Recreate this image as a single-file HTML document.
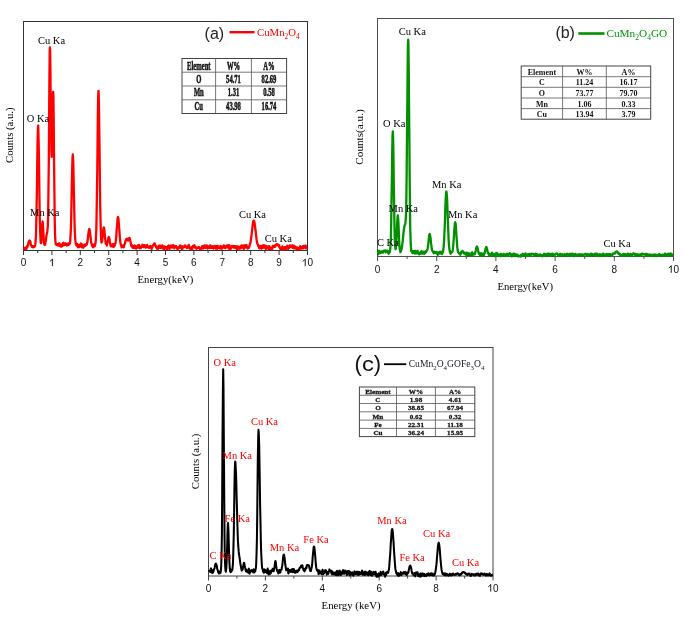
<!DOCTYPE html>
<html><head><meta charset="utf-8"><style>
html,body{margin:0;padding:0;background:#fff;}
body{width:685px;height:627px;overflow:hidden;font-family:"Liberation Serif",serif;}
svg{display:block;will-change:transform;filter:blur(0.4px);}
</style></head><body>
<svg width="685" height="627" viewBox="0 0 685 627">
<rect x="0" y="0" width="685" height="627" fill="#fff"/>
<rect x="23.5" y="21.5" width="284.0" height="229.0" fill="none" stroke="#333" stroke-width="1"/>
<line x1="23.5" y1="250.5" x2="23.5" y2="255.0" stroke="#333" stroke-width="1"/>
<text x="23.5" y="266.2" font-family="Liberation Sans" font-size="10" text-anchor="middle" fill="#111">0</text>
<line x1="37.7" y1="250.5" x2="37.7" y2="253.0" stroke="#333" stroke-width="1"/>
<line x1="51.9" y1="250.5" x2="51.9" y2="255.0" stroke="#333" stroke-width="1"/>
<path d="M52.40 266.20 L52.40 259.04 M52.60 259.14 L49.90 261.44" stroke="#111" stroke-width="0.95" fill="none" stroke-linecap="butt"/>
<line x1="66.1" y1="250.5" x2="66.1" y2="253.0" stroke="#333" stroke-width="1"/>
<line x1="80.3" y1="250.5" x2="80.3" y2="255.0" stroke="#333" stroke-width="1"/>
<text x="80.3" y="266.2" font-family="Liberation Sans" font-size="10" text-anchor="middle" fill="#111">2</text>
<line x1="94.5" y1="250.5" x2="94.5" y2="253.0" stroke="#333" stroke-width="1"/>
<line x1="108.7" y1="250.5" x2="108.7" y2="255.0" stroke="#333" stroke-width="1"/>
<text x="108.7" y="266.2" font-family="Liberation Sans" font-size="10" text-anchor="middle" fill="#111">3</text>
<line x1="122.9" y1="250.5" x2="122.9" y2="253.0" stroke="#333" stroke-width="1"/>
<line x1="137.1" y1="250.5" x2="137.1" y2="255.0" stroke="#333" stroke-width="1"/>
<text x="137.1" y="266.2" font-family="Liberation Sans" font-size="10" text-anchor="middle" fill="#111">4</text>
<line x1="151.3" y1="250.5" x2="151.3" y2="253.0" stroke="#333" stroke-width="1"/>
<line x1="165.5" y1="250.5" x2="165.5" y2="255.0" stroke="#333" stroke-width="1"/>
<text x="165.5" y="266.2" font-family="Liberation Sans" font-size="10" text-anchor="middle" fill="#111">5</text>
<line x1="179.7" y1="250.5" x2="179.7" y2="253.0" stroke="#333" stroke-width="1"/>
<line x1="193.9" y1="250.5" x2="193.9" y2="255.0" stroke="#333" stroke-width="1"/>
<text x="193.9" y="266.2" font-family="Liberation Sans" font-size="10" text-anchor="middle" fill="#111">6</text>
<line x1="208.1" y1="250.5" x2="208.1" y2="253.0" stroke="#333" stroke-width="1"/>
<line x1="222.3" y1="250.5" x2="222.3" y2="255.0" stroke="#333" stroke-width="1"/>
<text x="222.3" y="266.2" font-family="Liberation Sans" font-size="10" text-anchor="middle" fill="#111">7</text>
<line x1="236.5" y1="250.5" x2="236.5" y2="253.0" stroke="#333" stroke-width="1"/>
<line x1="250.7" y1="250.5" x2="250.7" y2="255.0" stroke="#333" stroke-width="1"/>
<text x="250.7" y="266.2" font-family="Liberation Sans" font-size="10" text-anchor="middle" fill="#111">8</text>
<line x1="264.9" y1="250.5" x2="264.9" y2="253.0" stroke="#333" stroke-width="1"/>
<line x1="279.1" y1="250.5" x2="279.1" y2="255.0" stroke="#333" stroke-width="1"/>
<text x="279.1" y="266.2" font-family="Liberation Sans" font-size="10" text-anchor="middle" fill="#111">9</text>
<line x1="293.3" y1="250.5" x2="293.3" y2="253.0" stroke="#333" stroke-width="1"/>
<line x1="307.5" y1="250.5" x2="307.5" y2="255.0" stroke="#333" stroke-width="1"/>
<path d="M305.22 266.20 L305.22 259.04 M305.42 259.14 L302.72 261.44" stroke="#111" stroke-width="0.95" fill="none" stroke-linecap="butt"/>
<text x="307.50" y="266.2" font-family="Liberation Sans" font-size="10" fill="#111">0</text>
<polyline fill="none" stroke="#ff0000" stroke-width="2.30" stroke-linejoin="round" points="24.0,247.0 24.3,249.1 24.7,249.4 25.0,247.7 25.3,248.0 25.6,247.9 26.0,248.5 26.3,249.0 26.6,247.0 27.0,246.2 27.3,247.3 27.6,246.2 28.0,245.5 28.3,243.4 28.6,242.4 28.9,241.4 29.3,240.7 29.5,240.5 29.6,240.5 29.9,241.0 30.3,241.3 30.6,243.1 30.9,245.1 31.3,245.7 31.6,246.0 31.9,246.7 32.2,245.9 32.6,246.2 32.9,246.9 33.2,247.3 33.6,246.5 33.9,246.3 34.2,246.2 34.6,246.7 34.9,246.2 35.2,244.9 35.5,242.6 35.9,237.0 36.2,226.9 36.5,211.2 36.9,190.3 37.2,166.3 37.5,144.0 37.9,129.2 38.1,125.7 38.2,126.2 38.5,135.9 38.9,155.4 39.2,179.2 39.5,202.0 39.8,220.1 40.2,232.5 40.5,239.8 40.8,243.2 41.2,242.7 41.5,239.2 41.8,232.9 42.1,226.2 42.5,221.9 42.6,221.5 42.8,222.6 43.1,227.9 43.5,234.9 43.8,240.6 44.1,243.7 44.5,244.9 44.8,244.9 45.1,244.4 45.5,242.7 45.8,240.6 46.1,238.3 46.4,235.6 46.8,234.0 47.1,232.5 47.2,232.0 47.4,230.6 47.8,226.5 48.1,216.3 48.4,195.7 48.8,162.3 49.1,119.2 49.4,77.2 49.7,51.0 49.9,47.5 50.1,50.0 50.4,68.7 50.7,98.8 51.1,129.6 51.4,151.0 51.7,156.9 52.0,147.3 52.4,127.4 52.7,106.4 53.0,93.4 53.2,92.0 53.4,95.8 53.7,119.7 54.0,156.2 54.4,191.9 54.7,218.2 55.0,233.6 55.4,241.1 55.7,243.9 56.0,244.1 56.3,244.8 56.7,244.9 57.0,244.5 57.3,244.3 57.7,245.0 58.0,245.5 58.3,245.6 58.6,245.1 59.0,243.4 59.3,243.6 59.6,243.5 60.0,244.9 60.3,246.3 60.6,246.5 61.0,246.6 61.3,246.7 61.6,244.7 62.0,246.2 62.3,246.1 62.6,243.9 62.9,243.1 63.3,242.8 63.6,245.4 63.9,244.3 64.3,243.5 64.6,245.1 64.9,244.6 65.2,243.5 65.6,243.5 65.9,244.8 66.2,243.9 66.6,244.0 66.9,245.6 67.2,245.2 67.6,244.6 67.9,245.0 68.2,243.5 68.5,244.3 68.9,244.7 69.2,244.1 69.5,243.6 69.9,243.6 70.2,241.1 70.5,236.4 70.9,228.8 71.2,217.3 71.5,202.1 71.8,184.9 72.2,169.0 72.5,157.9 72.8,154.5 72.8,154.6 73.2,160.0 73.5,172.6 73.8,189.2 74.2,206.2 74.5,220.6 74.8,231.1 75.2,237.9 75.5,242.0 75.8,243.8 76.1,245.0 76.5,244.8 76.8,245.7 77.1,244.0 77.5,244.3 77.8,246.8 78.1,247.2 78.5,245.3 78.8,246.7 79.1,245.2 79.4,247.0 79.8,246.8 80.1,245.6 80.4,244.7 80.8,243.5 81.1,246.3 81.4,244.1 81.8,246.3 82.1,247.4 82.4,246.4 82.7,244.6 83.1,246.6 83.4,247.6 83.7,246.9 84.1,246.0 84.4,245.3 84.7,245.0 85.0,244.4 85.4,245.8 85.7,245.4 86.0,244.5 86.4,244.0 86.7,244.6 87.0,243.4 87.4,242.1 87.7,239.8 88.0,237.4 88.3,234.5 88.7,231.4 89.0,229.6 89.3,229.0 89.3,229.0 89.7,229.9 90.0,232.2 90.3,234.8 90.7,238.0 91.0,240.9 91.3,243.2 91.7,244.0 92.0,245.6 92.3,246.0 92.6,245.8 93.0,247.3 93.3,245.3 93.6,246.5 94.0,244.5 94.3,244.3 94.6,246.3 95.0,245.0 95.3,244.6 95.6,242.5 95.9,238.1 96.3,229.6 96.6,215.7 96.9,195.1 97.3,168.7 97.6,139.4 97.9,112.7 98.2,95.1 98.5,90.8 98.6,91.3 98.9,102.2 99.2,124.8 99.6,153.6 99.9,182.2 100.2,206.0 100.6,223.3 100.9,234.0 101.2,239.9 101.5,242.6 101.9,242.1 102.2,240.5 102.5,237.3 102.9,233.6 103.2,230.4 103.5,228.1 103.8,227.4 103.9,227.4 104.2,228.8 104.5,231.6 104.8,235.5 105.2,239.1 105.5,241.4 105.8,243.8 106.2,244.2 106.5,243.9 106.8,245.5 107.2,243.8 107.5,242.5 107.8,241.4 108.2,239.1 108.5,237.6 108.8,237.0 108.8,237.0 109.1,237.6 109.5,239.2 109.8,241.5 110.1,243.0 110.5,245.1 110.8,246.3 111.1,245.6 111.5,245.3 111.8,245.8 112.1,244.7 112.4,246.3 112.8,244.6 113.1,244.0 113.4,247.2 113.8,245.8 114.1,246.3 114.4,245.8 114.8,245.1 115.1,244.0 115.4,243.6 115.7,241.7 116.1,238.6 116.4,234.2 116.7,229.4 117.1,224.7 117.4,220.5 117.7,217.8 118.0,217.0 118.0,217.0 118.4,218.4 118.7,221.7 119.0,226.1 119.4,230.9 119.7,235.4 120.0,239.1 120.4,242.5 120.7,244.0 121.0,245.4 121.3,246.2 121.7,247.4 122.0,246.3 122.3,245.7 122.7,245.6 123.0,245.5 123.3,247.0 123.7,247.2 124.0,245.6 124.3,244.7 124.7,244.2 125.0,243.2 125.3,242.1 125.6,240.5 126.0,239.8 126.3,239.1 126.5,239.0 126.6,239.0 127.0,239.3 127.3,238.7 127.6,240.3 128.0,239.8 128.3,240.5 128.6,239.5 128.9,238.6 129.3,238.0 129.5,238.0 129.6,238.1 129.9,238.9 130.3,240.7 130.6,241.8 130.9,243.8 131.2,245.6 131.6,246.5 131.9,246.0 132.2,245.3 132.6,246.3 132.9,247.9 133.2,246.3 133.6,247.9 133.9,245.8 134.2,247.9 134.6,245.4 134.9,245.6 135.2,247.8 135.5,248.1 135.9,248.6 136.2,248.5 136.5,248.1 136.9,247.8 137.2,245.9 137.5,246.2 137.8,245.4 138.2,247.1 138.5,247.5 138.8,246.1 139.2,245.0 139.5,247.9 139.8,248.2 140.2,247.4 140.5,247.1 140.8,248.2 141.2,247.1 141.5,246.5 141.8,246.2 142.1,245.8 142.5,244.8 142.8,246.8 143.1,246.5 143.5,247.0 143.8,245.4 144.1,245.9 144.4,245.3 144.8,245.1 145.1,245.5 145.4,247.7 145.8,246.8 146.1,246.5 146.4,247.2 146.8,246.1 147.1,244.9 147.4,246.4 147.8,246.8 148.1,247.4 148.4,246.9 148.7,247.6 149.1,248.0 149.4,246.4 149.7,246.8 150.1,246.9 150.4,246.0 150.7,246.4 151.1,247.0 151.4,248.5 151.7,248.9 152.0,246.8 152.4,247.3 152.7,245.7 153.0,245.2 153.4,245.4 153.7,245.3 154.0,244.0 154.3,243.5 154.5,243.4 154.7,243.5 155.0,244.1 155.3,245.6 155.7,245.7 156.0,246.8 156.3,247.5 156.7,247.4 157.0,248.3 157.3,248.8 157.7,249.2 158.0,247.9 158.3,246.1 158.6,245.9 159.0,245.7 159.3,246.9 159.6,247.9 160.0,245.7 160.3,247.3 160.6,247.9 160.9,246.7 161.3,247.0 161.6,245.8 161.9,247.5 162.3,245.5 162.6,248.3 162.9,248.5 163.3,247.9 163.6,246.5 163.9,248.3 164.2,249.1 164.6,246.3 164.9,247.8 165.2,248.5 165.6,248.0 165.9,248.1 166.2,247.1 166.6,248.6 166.9,249.2 167.2,247.3 167.6,248.2 167.9,247.1 168.2,245.9 168.5,246.1 168.9,245.4 169.2,248.0 169.5,249.0 169.9,246.3 170.2,247.2 170.5,246.7 170.8,245.6 171.2,245.9 171.5,245.8 171.8,247.6 172.2,245.4 172.5,245.4 172.8,246.3 173.2,245.1 173.5,246.9 173.8,247.4 174.2,248.4 174.5,246.4 174.8,246.1 175.1,246.9 175.5,246.2 175.8,247.1 176.1,246.2 176.5,247.4 176.8,248.2 177.1,248.5 177.4,249.2 177.8,247.9 178.1,247.3 178.4,248.4 178.8,248.4 179.1,247.7 179.4,246.8 179.8,246.2 180.1,245.4 180.4,247.7 180.8,245.9 181.1,247.6 181.4,247.4 181.7,248.8 182.1,248.5 182.4,249.2 182.7,246.4 183.1,246.9 183.4,247.3 183.7,246.4 184.1,246.9 184.4,246.5 184.7,247.0 185.0,245.3 185.4,246.3 185.7,246.7 186.0,246.2 186.4,246.5 186.7,247.9 187.0,248.0 187.3,247.3 187.7,247.7 188.0,246.8 188.3,245.9 188.7,244.9 189.0,245.6 189.3,247.0 189.7,248.4 190.0,248.7 190.3,247.6 190.7,249.0 191.0,247.5 191.3,248.4 191.6,247.2 192.0,248.0 192.3,249.1 192.6,247.0 193.0,245.9 193.3,247.2 193.6,247.2 193.9,246.6 194.3,245.2 194.6,246.1 194.9,246.5 195.3,246.6 195.6,248.2 195.9,247.7 196.3,248.1 196.6,248.8 196.9,248.5 197.2,247.5 197.6,248.1 197.9,247.9 198.2,247.9 198.6,247.8 198.9,247.0 199.2,247.5 199.6,247.7 199.9,248.9 200.2,248.6 200.6,248.8 200.9,248.6 201.2,248.7 201.5,248.0 201.9,246.8 202.2,246.2 202.5,247.6 202.9,248.6 203.2,247.7 203.5,246.0 203.8,248.0 204.2,247.3 204.5,247.0 204.8,245.5 205.2,246.6 205.5,247.8 205.8,247.1 206.2,246.6 206.5,247.5 206.8,245.5 207.2,246.7 207.5,248.6 207.8,248.2 208.1,247.1 208.5,247.8 208.8,247.7 209.1,246.2 209.5,245.8 209.8,248.1 210.1,246.6 210.4,245.4 210.8,247.8 211.1,247.4 211.4,246.7 211.8,247.0 212.1,247.9 212.4,246.2 212.8,247.4 213.1,248.0 213.4,248.5 213.8,246.7 214.1,247.4 214.4,246.2 214.7,247.1 215.1,245.9 215.4,247.8 215.7,248.6 216.1,247.0 216.4,246.1 216.7,248.5 217.1,248.3 217.4,248.7 217.7,245.9 218.0,248.2 218.4,247.9 218.7,246.7 219.0,246.8 219.4,248.0 219.7,248.4 220.0,246.4 220.3,247.4 220.7,246.0 221.0,248.5 221.3,247.3 221.7,248.7 222.0,248.4 222.3,247.9 222.7,246.5 223.0,247.0 223.3,245.8 223.7,245.4 224.0,247.4 224.3,246.7 224.6,247.9 225.0,246.4 225.3,247.7 225.6,248.1 226.0,246.7 226.3,245.6 226.6,246.3 226.9,246.9 227.3,245.6 227.6,245.6 227.9,245.1 228.3,246.9 228.6,248.5 228.9,246.5 229.3,245.3 229.6,247.3 229.9,248.3 230.2,249.2 230.6,248.2 230.9,246.9 231.2,248.3 231.6,246.1 231.9,247.5 232.2,245.8 232.6,246.4 232.9,246.9 233.2,246.6 233.6,245.8 233.9,245.8 234.2,247.9 234.5,247.2 234.9,247.5 235.2,246.2 235.5,247.7 235.9,246.7 236.2,247.4 236.5,248.7 236.8,249.4 237.2,246.2 237.5,247.9 237.8,248.7 238.2,247.0 238.5,246.7 238.8,247.3 239.2,248.7 239.5,247.3 239.8,248.6 240.2,248.5 240.5,246.3 240.8,248.4 241.1,245.8 241.5,245.5 241.8,247.3 242.1,245.6 242.5,246.3 242.8,245.6 243.1,246.6 243.4,248.2 243.8,249.0 244.1,246.0 244.4,245.3 244.8,247.8 245.1,245.7 245.4,245.9 245.8,245.4 246.1,245.2 246.4,244.9 246.8,247.0 247.1,248.0 247.4,248.0 247.7,248.5 248.1,248.0 248.4,246.9 248.7,247.0 249.1,247.5 249.4,246.5 249.7,244.9 250.1,243.5 250.4,243.1 250.7,241.2 251.0,238.9 251.4,236.5 251.7,233.7 252.0,230.8 252.4,227.5 252.7,224.9 253.0,222.8 253.3,221.3 253.7,220.6 253.8,220.5 254.0,220.7 254.3,221.7 254.7,223.8 255.0,226.1 255.3,228.8 255.7,231.5 256.0,234.8 256.3,237.0 256.6,239.9 257.0,242.0 257.3,243.7 257.6,244.0 258.0,244.6 258.3,246.4 258.6,246.5 259.0,246.4 259.3,248.3 259.6,246.0 259.9,246.9 260.3,246.9 260.6,245.8 260.9,246.4 261.3,247.7 261.6,248.7 261.9,246.0 262.3,246.9 262.6,245.7 262.9,247.8 263.2,245.9 263.6,245.1 263.9,246.2 264.2,247.7 264.6,246.7 264.9,245.7 265.2,247.8 265.6,248.5 265.9,248.9 266.2,247.0 266.6,246.9 266.9,246.2 267.2,247.1 267.5,246.6 267.9,246.5 268.2,248.0 268.5,249.1 268.9,248.1 269.2,246.1 269.5,247.4 269.9,247.1 270.2,248.9 270.5,248.5 270.8,248.8 271.2,248.4 271.5,247.7 271.8,248.8 272.2,248.9 272.5,247.0 272.8,245.9 273.1,246.4 273.5,247.0 273.8,245.8 274.1,246.2 274.5,246.8 274.8,245.5 275.1,246.8 275.5,246.4 275.8,245.3 276.1,244.6 276.4,244.2 276.8,244.4 277.1,244.2 277.2,244.2 277.4,244.3 277.8,244.5 278.1,245.5 278.4,245.1 278.8,245.3 279.1,245.1 279.4,247.4 279.8,247.0 280.1,248.3 280.4,248.8 280.7,249.3 281.1,248.9 281.4,249.2 281.7,249.4 282.1,249.0 282.4,246.5 282.7,247.1 283.1,247.5 283.4,249.1 283.7,248.8 284.0,248.5 284.4,248.5 284.7,247.1 285.0,248.8 285.4,248.2 285.7,247.2 286.0,247.1 286.4,248.9 286.7,247.9 287.0,246.3 287.3,245.7 287.7,247.5 288.0,247.6 288.3,248.8 288.7,246.6 289.0,246.7 289.3,247.9 289.6,245.8 290.0,245.4 290.3,246.9 290.6,246.3 291.0,245.6 291.3,245.9 291.6,247.3 292.0,247.4 292.3,245.8 292.6,245.3 292.9,247.9 293.3,248.0 293.6,246.3 293.9,248.3 294.3,245.9 294.6,246.4 294.9,248.3 295.3,248.3 295.6,246.8 295.9,248.5 296.2,248.0 296.6,248.8 296.9,249.2 297.2,247.6 297.6,248.0 297.9,247.7 298.2,249.0 298.6,248.9 298.9,248.6 299.2,248.8 299.6,249.5 299.9,247.1 300.2,246.2 300.5,247.8 300.9,248.4 301.2,247.7 301.5,247.4 301.9,247.0 302.2,248.6 302.5,248.7 302.9,248.0 303.2,245.9 303.5,248.1 303.8,247.4 304.2,246.2 304.5,246.2 304.8,247.7 305.2,245.6 305.5,245.4 305.8,246.0 306.1,248.3 306.5,248.5 306.8,249.4"/>
<text x="0" y="0" transform="translate(38.00 43.70) scale(1 1.070)" font-family="Liberation Serif" font-size="10.5" fill="#000" text-anchor="start" >Cu Ka</text>
<text x="0" y="0" transform="translate(26.70 122.00) scale(1 1.070)" font-family="Liberation Serif" font-size="10.5" fill="#000" text-anchor="start" >O Ka</text>
<text x="0" y="0" transform="translate(30.10 216.10) scale(1 1.070)" font-family="Liberation Serif" font-size="10.5" fill="#000" text-anchor="start" >Mn Ka</text>
<text x="0" y="0" transform="translate(238.90 217.90) scale(1 1.070)" font-family="Liberation Serif" font-size="10.5" fill="#000" text-anchor="start" >Cu Ka</text>
<text x="0" y="0" transform="translate(264.70 241.70) scale(1 1.070)" font-family="Liberation Serif" font-size="10.5" fill="#000" text-anchor="start" >Cu Ka</text>
<text x="137.5" y="282.7" font-family="Liberation Serif" font-size="11.2" fill="#000" text-anchor="start" textLength="55.8" lengthAdjust="spacingAndGlyphs">Energy(keV)</text>
<text x="0.0" y="0.0" font-family="Liberation Serif" font-size="10.7" fill="#000" text-anchor="middle" transform="translate(13.2 135.2) rotate(-90)">Counts (a.u.)</text>
<text x="204.6" y="38.5" font-family="Liberation Sans" font-size="16" fill="#222" text-anchor="start" >(a)</text>
<line x1="229.5" y1="32.2" x2="254.5" y2="32.2" stroke="#ff0000" stroke-width="2.4"/>
<text x="257.0" y="35.8" font-family="Liberation Serif" font-size="10.8" fill="#ff0000">CuMn<tspan font-size="7.3" dy="2.7">2</tspan><tspan dy="-2.7">O</tspan><tspan font-size="7.3" dy="2.7">4</tspan></text>
<rect x="182.0" y="58.5" width="104.6" height="55.0" fill="#fff" stroke="#444" stroke-width="1"/>
<line x1="182.0" y1="72.2" x2="286.6" y2="72.2" stroke="#555" stroke-width="0.8"/>
<line x1="182.0" y1="86.0" x2="286.6" y2="86.0" stroke="#555" stroke-width="0.8"/>
<line x1="182.0" y1="99.8" x2="286.6" y2="99.8" stroke="#555" stroke-width="0.8"/>
<line x1="215.6" y1="58.5" x2="215.6" y2="113.5" stroke="#555" stroke-width="0.8"/>
<line x1="251.4" y1="58.5" x2="251.4" y2="113.5" stroke="#555" stroke-width="0.8"/>
<text x="0" y="0" transform="translate(198.80 69.77) scale(0.5570 1.0000)" font-family="Liberation Serif" font-weight="bold" font-size="11.80" fill="#111" stroke="#111" stroke-width="0.55" text-anchor="middle">Element</text>
<text x="0" y="0" transform="translate(233.50 69.77) scale(0.5570 1.0000)" font-family="Liberation Serif" font-weight="bold" font-size="11.80" fill="#111" stroke="#111" stroke-width="0.55" text-anchor="middle">W%</text>
<text x="0" y="0" transform="translate(269.00 69.77) scale(0.5570 1.0000)" font-family="Liberation Serif" font-weight="bold" font-size="11.80" fill="#111" stroke="#111" stroke-width="0.55" text-anchor="middle">A%</text>
<text x="0" y="0" transform="translate(198.80 82.62) scale(0.5570 1.0000)" font-family="Liberation Serif" font-weight="bold" font-size="11.80" fill="#111" stroke="#111" stroke-width="0.55" text-anchor="middle">O</text>
<text x="0" y="0" transform="translate(233.50 82.62) scale(0.5570 1.0000)" font-family="Liberation Serif" font-weight="bold" font-size="11.80" fill="#111" stroke="#111" stroke-width="0.55" text-anchor="middle">54.71</text>
<text x="0" y="0" transform="translate(269.00 82.62) scale(0.5570 1.0000)" font-family="Liberation Serif" font-weight="bold" font-size="11.80" fill="#111" stroke="#111" stroke-width="0.55" text-anchor="middle">82.69</text>
<text x="0" y="0" transform="translate(198.80 96.37) scale(0.5570 1.0000)" font-family="Liberation Serif" font-weight="bold" font-size="11.80" fill="#111" stroke="#111" stroke-width="0.55" text-anchor="middle">Mn</text>
<text x="0" y="0" transform="translate(233.50 96.37) scale(0.5570 1.0000)" font-family="Liberation Serif" font-weight="bold" font-size="11.80" fill="#111" stroke="#111" stroke-width="0.55" text-anchor="middle">1.31</text>
<text x="0" y="0" transform="translate(269.00 96.37) scale(0.5570 1.0000)" font-family="Liberation Serif" font-weight="bold" font-size="11.80" fill="#111" stroke="#111" stroke-width="0.55" text-anchor="middle">0.58</text>
<text x="0" y="0" transform="translate(198.80 110.12) scale(0.5570 1.0000)" font-family="Liberation Serif" font-weight="bold" font-size="11.80" fill="#111" stroke="#111" stroke-width="0.55" text-anchor="middle">Cu</text>
<text x="0" y="0" transform="translate(233.50 110.12) scale(0.5570 1.0000)" font-family="Liberation Serif" font-weight="bold" font-size="11.80" fill="#111" stroke="#111" stroke-width="0.55" text-anchor="middle">43.98</text>
<text x="0" y="0" transform="translate(269.00 110.12) scale(0.5570 1.0000)" font-family="Liberation Serif" font-weight="bold" font-size="11.80" fill="#111" stroke="#111" stroke-width="0.55" text-anchor="middle">16.74</text>
<rect x="377.5" y="18.5" width="296.0" height="238.0" fill="none" stroke="#505050" stroke-width="1"/>
<line x1="377.5" y1="256.5" x2="377.5" y2="261.0" stroke="#505050" stroke-width="1"/>
<text x="377.5" y="272.8" font-family="Liberation Sans" font-size="10" text-anchor="middle" fill="#111">0</text>
<line x1="407.1" y1="256.5" x2="407.1" y2="259.0" stroke="#505050" stroke-width="1"/>
<line x1="436.7" y1="256.5" x2="436.7" y2="261.0" stroke="#505050" stroke-width="1"/>
<text x="436.7" y="272.8" font-family="Liberation Sans" font-size="10" text-anchor="middle" fill="#111">2</text>
<line x1="466.3" y1="256.5" x2="466.3" y2="259.0" stroke="#505050" stroke-width="1"/>
<line x1="495.9" y1="256.5" x2="495.9" y2="261.0" stroke="#505050" stroke-width="1"/>
<text x="495.9" y="272.8" font-family="Liberation Sans" font-size="10" text-anchor="middle" fill="#111">4</text>
<line x1="525.5" y1="256.5" x2="525.5" y2="259.0" stroke="#505050" stroke-width="1"/>
<line x1="555.1" y1="256.5" x2="555.1" y2="261.0" stroke="#505050" stroke-width="1"/>
<text x="555.1" y="272.8" font-family="Liberation Sans" font-size="10" text-anchor="middle" fill="#111">6</text>
<line x1="584.7" y1="256.5" x2="584.7" y2="259.0" stroke="#505050" stroke-width="1"/>
<line x1="614.3" y1="256.5" x2="614.3" y2="261.0" stroke="#505050" stroke-width="1"/>
<text x="614.3" y="272.8" font-family="Liberation Sans" font-size="10" text-anchor="middle" fill="#111">8</text>
<line x1="643.9" y1="256.5" x2="643.9" y2="259.0" stroke="#505050" stroke-width="1"/>
<line x1="673.5" y1="256.5" x2="673.5" y2="261.0" stroke="#505050" stroke-width="1"/>
<path d="M671.22 272.80 L671.22 265.64 M671.42 265.74 L668.72 268.04" stroke="#111" stroke-width="0.95" fill="none" stroke-linecap="butt"/>
<text x="673.50" y="272.8" font-family="Liberation Sans" font-size="10" fill="#111">0</text>
<polyline fill="none" stroke="#009000" stroke-width="2.30" stroke-linejoin="round" points="378.0,253.8 378.3,254.2 378.7,251.4 379.0,250.7 379.3,252.9 379.6,253.2 380.0,253.1 380.3,251.9 380.6,252.5 381.0,252.7 381.3,252.6 381.6,251.3 382.0,251.6 382.3,251.5 382.6,252.0 382.9,252.6 383.3,252.4 383.6,250.8 383.9,250.6 384.3,250.5 384.3,250.5 384.6,250.6 384.9,250.7 385.3,250.4 385.6,250.8 385.9,252.3 386.2,252.1 386.6,252.2 386.9,251.5 387.2,250.6 387.6,251.2 387.9,250.8 388.2,251.9 388.6,253.8 388.9,253.2 389.2,251.7 389.6,252.5 389.9,251.7 390.2,249.7 390.5,245.4 390.9,237.0 391.2,223.1 391.5,202.8 391.9,178.2 392.2,153.8 392.5,136.4 392.8,131.3 392.9,131.5 393.2,140.6 393.5,160.8 393.8,185.9 394.2,209.6 394.5,227.9 394.8,239.9 395.2,246.2 395.5,249.2 395.8,248.7 396.1,245.3 396.5,239.7 396.8,232.2 397.1,224.0 397.5,217.7 397.8,215.3 398.1,217.7 398.5,224.0 398.8,232.0 399.1,239.7 399.4,245.2 399.8,249.1 400.1,250.4 400.4,252.2 400.8,251.8 401.1,250.6 401.4,249.5 401.8,248.1 402.1,246.1 402.4,243.4 402.8,240.4 403.1,237.3 403.4,234.2 403.7,231.0 404.1,228.0 404.4,226.3 404.7,225.2 404.8,225.0 405.1,224.5 405.4,223.4 405.7,219.9 406.1,211.8 406.4,195.8 406.7,170.0 407.0,135.2 407.4,96.2 407.7,61.9 408.0,41.9 408.2,39.6 408.4,42.8 408.7,64.7 409.0,101.5 409.4,143.5 409.7,181.8 410.0,211.3 410.3,230.9 410.7,242.4 411.0,247.9 411.3,251.1 411.7,251.1 412.0,252.4 412.3,251.2 412.6,251.4 413.0,253.2 413.3,251.6 413.6,251.3 414.0,252.8 414.3,252.3 414.6,251.0 415.0,253.7 415.3,251.8 415.6,250.9 415.9,251.6 416.3,252.7 416.6,253.4 416.9,251.6 417.3,251.8 417.6,250.9 417.9,252.0 418.3,253.3 418.6,253.6 418.9,254.2 419.2,254.0 419.6,254.2 419.9,253.8 420.2,253.0 420.6,251.9 420.9,253.0 421.2,252.2 421.6,251.3 421.9,252.2 422.2,253.8 422.6,251.9 422.9,252.8 423.2,252.5 423.5,252.7 423.9,251.7 424.2,253.9 424.5,252.4 424.9,253.0 425.2,252.6 425.5,251.3 425.9,252.5 426.2,251.6 426.5,251.2 426.8,250.7 427.2,250.1 427.5,248.8 427.8,247.2 428.2,244.6 428.5,241.8 428.8,238.8 429.1,235.9 429.5,234.3 429.7,234.0 429.8,234.1 430.1,235.2 430.5,237.6 430.8,240.7 431.1,243.9 431.5,246.4 431.8,248.8 432.1,250.5 432.4,251.0 432.8,251.3 433.1,252.2 433.4,251.7 433.8,253.3 434.1,252.4 434.4,251.6 434.8,251.7 435.1,251.8 435.4,251.8 435.8,252.8 436.1,252.9 436.4,252.5 436.7,253.4 437.1,252.3 437.4,254.2 437.7,254.9 438.1,254.4 438.4,253.4 438.7,253.3 439.1,253.5 439.4,251.9 439.7,252.6 440.0,253.1 440.4,252.2 440.7,251.6 441.0,253.7 441.4,253.0 441.7,253.2 442.0,254.1 442.4,253.3 442.7,252.1 443.0,251.7 443.3,249.5 443.7,246.3 444.0,242.1 444.3,235.8 444.7,228.0 445.0,219.0 445.3,209.6 445.6,200.9 446.0,194.6 446.3,191.6 446.4,191.5 446.6,192.6 447.0,197.2 447.3,204.6 447.6,213.8 448.0,223.3 448.3,232.0 448.6,239.0 448.9,244.5 449.3,248.0 449.6,250.6 449.9,251.8 450.3,252.7 450.6,253.7 450.9,253.2 451.3,252.2 451.6,252.0 451.9,251.7 452.2,252.1 452.6,250.8 452.9,248.8 453.2,245.5 453.6,241.0 453.9,236.2 454.2,231.1 454.6,226.4 454.9,223.3 455.2,222.3 455.2,222.3 455.6,223.6 455.9,227.0 456.2,231.7 456.5,236.9 456.9,242.0 457.2,246.1 457.5,249.3 457.9,251.4 458.2,252.2 458.5,252.5 458.9,253.2 459.2,252.9 459.5,253.2 459.8,254.1 460.2,254.8 460.5,254.0 460.8,253.9 461.2,252.1 461.5,251.7 461.8,251.6 462.1,251.2 462.5,251.0 462.5,251.0 462.8,251.1 463.1,251.5 463.5,253.0 463.8,253.2 464.1,252.5 464.5,252.8 464.8,252.8 465.1,254.0 465.4,254.5 465.8,253.9 466.1,254.0 466.4,252.7 466.8,253.7 467.1,255.3 467.4,255.2 467.8,253.0 468.1,253.7 468.4,254.6 468.8,253.4 469.1,255.1 469.4,254.2 469.7,254.7 470.1,253.9 470.4,255.6 470.7,255.4 471.1,254.7 471.4,253.1 471.7,253.6 472.1,252.4 472.4,253.9 472.7,255.2 473.0,253.4 473.4,253.9 473.7,254.0 474.0,253.7 474.4,254.2 474.7,254.4 475.0,253.4 475.4,252.0 475.7,251.0 476.0,249.0 476.3,247.6 476.7,246.7 476.9,246.5 477.0,246.5 477.3,247.2 477.7,248.6 478.0,249.9 478.3,251.6 478.6,253.2 479.0,253.8 479.3,252.9 479.6,253.7 480.0,254.7 480.3,255.6 480.6,255.1 481.0,255.6 481.3,253.2 481.6,255.4 481.9,255.4 482.3,255.0 482.6,255.8 482.9,256.0 483.3,253.6 483.6,255.0 483.9,255.0 484.3,253.5 484.6,253.4 484.9,252.3 485.2,250.4 485.6,249.2 485.9,247.7 486.2,247.0 486.3,247.0 486.6,247.3 486.9,248.5 487.2,250.1 487.6,251.4 487.9,253.4 488.2,253.2 488.6,252.9 488.9,254.0 489.2,255.3 489.5,255.3 489.9,255.6 490.2,254.8 490.5,255.2 490.9,254.2 491.2,253.7 491.5,254.3 491.9,253.0 492.2,252.8 492.5,254.9 492.8,253.7 493.2,255.1 493.5,255.7 493.8,254.7 494.2,255.2 494.5,255.7 494.8,256.1 495.1,254.0 495.5,253.4 495.8,253.9 496.1,254.4 496.5,254.0 496.8,252.9 497.1,254.4 497.5,256.1 497.8,254.7 498.1,254.9 498.4,254.4 498.8,254.5 499.1,255.9 499.4,254.5 499.8,255.2 500.1,254.9 500.4,254.9 500.8,256.2 501.1,253.9 501.4,255.5 501.8,254.4 502.1,255.1 502.4,255.8 502.7,255.6 503.1,254.7 503.4,255.8 503.7,253.8 504.1,254.9 504.4,254.5 504.7,254.8 505.1,255.9 505.4,256.0 505.7,255.6 506.0,254.4 506.4,253.9 506.7,254.4 507.0,253.9 507.4,253.8 507.7,255.9 508.0,254.0 508.4,255.5 508.7,254.6 509.0,254.3 509.3,254.1 509.7,253.3 510.0,254.2 510.3,253.6 510.7,254.3 511.0,254.0 511.3,255.7 511.6,256.3 512.0,255.1 512.3,255.3 512.6,256.2 513.0,254.7 513.3,253.6 513.6,253.7 514.0,253.6 514.3,254.9 514.6,254.5 515.0,254.3 515.3,255.5 515.6,254.2 515.9,255.5 516.3,255.4 516.6,254.7 516.9,255.7 517.3,254.6 517.6,255.8 517.9,256.3 518.2,255.3 518.6,255.5 518.9,256.2 519.2,255.9 519.6,255.8 519.9,256.1 520.2,256.4 520.6,256.0 520.9,256.5 521.2,254.7 521.5,255.1 521.9,255.4 522.2,254.6 522.5,254.5 522.9,253.8 523.2,255.7 523.5,254.7 523.9,254.7 524.2,255.8 524.5,254.3 524.9,255.9 525.2,254.1 525.5,253.4 525.8,254.0 526.2,254.2 526.5,255.7 526.8,256.1 527.2,255.9 527.5,255.0 527.8,255.0 528.1,254.2 528.5,255.5 528.8,254.7 529.1,254.2 529.5,255.0 529.8,254.0 530.1,254.1 530.5,255.7 530.8,254.0 531.1,253.7 531.5,253.7 531.8,253.9 532.1,254.3 532.4,254.0 532.8,254.2 533.1,254.0 533.4,253.9 533.8,254.8 534.1,254.4 534.4,254.4 534.8,255.3 535.1,253.9 535.4,253.7 535.7,255.3 536.1,254.8 536.4,255.5 536.7,254.1 537.1,254.7 537.4,255.6 537.7,254.7 538.0,255.4 538.4,255.2 538.7,254.7 539.0,255.9 539.4,254.9 539.7,254.8 540.0,255.1 540.4,254.5 540.7,255.5 541.0,255.2 541.4,255.1 541.7,255.0 542.0,256.0 542.3,256.3 542.7,256.0 543.0,255.1 543.3,254.7 543.7,254.8 544.0,253.8 544.3,253.6 544.6,255.6 545.0,254.2 545.3,255.6 545.6,255.5 546.0,256.0 546.3,254.2 546.6,254.2 547.0,255.3 547.3,253.8 547.6,253.6 548.0,254.1 548.3,253.8 548.6,253.7 548.9,254.9 549.3,253.9 549.6,255.6 549.9,255.4 550.3,253.9 550.6,255.5 550.9,254.4 551.2,254.6 551.6,254.9 551.9,254.0 552.2,254.6 552.6,253.7 552.9,253.8 553.2,255.5 553.6,255.7 553.9,255.1 554.2,255.3 554.5,255.8 554.9,254.3 555.2,254.6 555.5,253.9 555.9,253.7 556.2,253.6 556.5,253.8 556.9,253.5 557.2,253.7 557.5,254.2 557.9,254.9 558.2,255.7 558.5,256.0 558.8,255.7 559.2,255.1 559.5,255.8 559.8,254.3 560.2,253.8 560.5,255.2 560.8,255.2 561.1,254.3 561.5,254.4 561.8,254.2 562.1,254.5 562.5,254.5 562.8,254.5 563.1,255.4 563.5,255.7 563.8,255.2 564.1,254.9 564.5,254.3 564.8,255.3 565.1,256.0 565.4,254.6 565.8,255.2 566.1,255.4 566.4,255.3 566.8,253.9 567.1,254.6 567.4,254.1 567.8,253.9 568.1,254.7 568.4,255.1 568.7,255.2 569.1,255.5 569.4,255.5 569.7,254.9 570.1,253.8 570.4,255.1 570.7,255.6 571.0,255.8 571.4,255.3 571.7,253.9 572.0,253.8 572.4,253.6 572.7,254.8 573.0,254.9 573.4,254.1 573.7,255.6 574.0,256.1 574.4,256.1 574.7,255.1 575.0,254.4 575.3,254.0 575.7,255.3 576.0,255.4 576.3,254.5 576.7,255.6 577.0,255.2 577.3,254.7 577.6,254.6 578.0,255.2 578.3,254.8 578.6,255.2 579.0,254.1 579.3,255.0 579.6,254.4 580.0,255.6 580.3,254.4 580.6,254.3 581.0,254.7 581.3,254.5 581.6,254.8 581.9,255.8 582.3,254.4 582.6,255.3 582.9,255.4 583.3,255.6 583.6,254.9 583.9,254.7 584.2,254.4 584.6,254.6 584.9,254.2 585.2,253.9 585.6,254.5 585.9,254.0 586.2,254.5 586.6,254.9 586.9,254.4 587.2,253.9 587.5,254.8 587.9,255.6 588.2,254.4 588.5,254.9 588.9,255.2 589.2,255.8 589.5,255.5 589.9,254.6 590.2,254.1 590.5,255.3 590.9,254.5 591.2,253.6 591.5,255.3 591.8,254.3 592.2,254.2 592.5,254.2 592.8,254.1 593.2,255.1 593.5,254.5 593.8,254.6 594.1,254.6 594.5,255.5 594.8,253.9 595.1,254.7 595.5,253.9 595.8,253.8 596.1,254.7 596.5,254.5 596.8,253.7 597.1,254.7 597.5,255.7 597.8,255.4 598.1,255.0 598.4,255.5 598.8,256.0 599.1,254.4 599.4,254.2 599.8,255.7 600.1,256.0 600.4,254.5 600.8,255.2 601.1,255.8 601.4,255.3 601.7,255.4 602.1,255.0 602.4,254.3 602.7,254.0 603.1,253.6 603.4,254.8 603.7,254.0 604.0,254.8 604.4,254.6 604.7,254.6 605.0,255.8 605.4,254.9 605.7,254.8 606.0,254.5 606.4,254.1 606.7,254.0 607.0,254.6 607.4,255.5 607.7,254.1 608.0,255.6 608.3,255.4 608.7,254.0 609.0,255.0 609.3,254.6 609.7,254.8 610.0,253.9 610.3,254.6 610.6,254.8 611.0,255.4 611.3,255.2 611.6,255.3 612.0,255.4 612.3,254.3 612.6,253.6 613.0,254.2 613.3,253.7 613.6,253.4 614.0,253.5 614.3,253.6 614.6,253.5 614.9,253.2 615.3,253.3 615.6,251.8 615.9,251.8 616.3,251.6 616.6,251.5 616.7,251.5 616.9,251.5 617.2,251.7 617.6,252.0 617.9,252.3 618.2,253.3 618.6,253.1 618.9,253.3 619.2,254.4 619.6,254.5 619.9,253.8 620.2,254.9 620.5,254.5 620.9,255.6 621.2,255.3 621.5,255.6 621.9,255.9 622.2,255.1 622.5,255.9 622.9,254.1 623.2,254.2 623.5,255.4 623.9,253.9 624.2,254.9 624.5,255.9 624.8,255.6 625.2,255.9 625.5,254.2 625.8,254.7 626.2,255.0 626.5,254.7 626.8,254.6 627.1,255.4 627.5,254.2 627.8,253.6 628.1,254.7 628.5,255.8 628.8,255.8 629.1,255.5 629.5,254.6 629.8,255.6 630.1,254.0 630.5,254.0 630.8,255.2 631.1,255.8 631.4,254.9 631.8,255.7 632.1,254.2 632.4,254.8 632.8,253.8 633.1,253.9 633.4,253.8 633.8,253.4 634.1,254.2 634.4,254.6 634.7,254.3 635.1,255.0 635.4,253.9 635.7,254.6 636.1,254.8 636.4,254.6 636.7,255.7 637.0,254.2 637.4,254.5 637.7,254.6 638.0,254.5 638.4,255.8 638.7,255.2 639.0,255.0 639.4,254.7 639.7,254.6 640.0,255.8 640.4,255.8 640.7,255.4 641.0,254.2 641.3,254.8 641.7,254.0 642.0,254.2 642.3,253.6 642.7,254.6 643.0,254.3 643.3,254.2 643.5,254.2 643.6,254.2 644.0,254.3 644.3,254.4 644.6,254.5 645.0,254.2 645.3,254.0 645.6,255.1 646.0,255.9 646.3,255.8 646.6,255.4 647.0,253.9 647.3,254.1 647.6,255.3 647.9,256.0 648.3,255.3 648.6,255.1 648.9,255.3 649.3,254.4 649.6,255.1 649.9,254.6 650.2,255.5 650.6,254.9 650.9,255.2 651.2,255.0 651.6,255.0 651.9,254.8 652.2,255.8 652.6,255.7 652.9,254.9 653.2,254.8 653.5,255.7 653.9,255.6 654.2,255.4 654.5,256.0 654.9,254.3 655.2,254.9 655.5,255.1 655.9,254.8 656.2,255.8 656.5,256.1 656.9,255.0 657.2,255.1 657.5,255.5 657.8,255.4 658.2,254.7 658.5,255.4 658.8,254.7 659.2,254.0 659.5,254.9 659.8,255.2 660.1,254.7 660.5,254.8 660.8,255.9 661.1,255.8 661.5,254.9 661.8,255.7 662.1,255.2 662.5,254.7 662.8,255.1 663.1,255.5 663.5,255.9 663.8,255.5 664.1,255.4 664.4,254.8 664.8,253.8 665.1,254.4 665.4,253.8 665.8,255.5 666.1,254.7 666.4,255.0 666.8,255.4 667.1,254.3 667.4,255.4 667.7,254.6 668.1,253.8 668.4,254.7 668.7,254.6 669.1,255.7 669.4,254.9 669.7,253.9 670.0,253.5 670.4,253.4 670.7,254.4 671.0,255.1 671.4,253.9 671.7,254.2 672.0,254.6 672.4,255.6 672.7,256.1"/>
<text x="0" y="0" transform="translate(398.70 34.90) scale(1 1.070)" font-family="Liberation Serif" font-size="10.5" fill="#000" text-anchor="start" >Cu Ka</text>
<text x="0" y="0" transform="translate(383.00 126.70) scale(1 1.070)" font-family="Liberation Serif" font-size="10.5" fill="#000" text-anchor="start" >O Ka</text>
<text x="0" y="0" transform="translate(388.60 212.20) scale(1 1.070)" font-family="Liberation Serif" font-size="10.5" fill="#000" text-anchor="start" >Mn Ka</text>
<text x="0" y="0" transform="translate(377.00 246.00) scale(1 1.070)" font-family="Liberation Serif" font-size="10.5" fill="#000" text-anchor="start" >C Ka</text>
<text x="0" y="0" transform="translate(432.00 187.60) scale(1 1.070)" font-family="Liberation Serif" font-size="10.5" fill="#000" text-anchor="start" >Mn Ka</text>
<text x="0" y="0" transform="translate(447.90 218.10) scale(1 1.070)" font-family="Liberation Serif" font-size="10.5" fill="#000" text-anchor="start" >Mn Ka</text>
<text x="0" y="0" transform="translate(603.50 247.00) scale(1 1.070)" font-family="Liberation Serif" font-size="10.5" fill="#000" text-anchor="start" >Cu Ka</text>
<text x="497.4" y="290.0" font-family="Liberation Serif" font-size="11.2" fill="#000" text-anchor="start" textLength="55.7" lengthAdjust="spacingAndGlyphs">Energy(keV)</text>
<text x="0.0" y="0.0" font-family="Liberation Serif" font-size="11.2" fill="#000" text-anchor="middle" transform="translate(362.6 137.0) rotate(-90)">Counts(a.u.)</text>
<text x="555.4" y="38.0" font-family="Liberation Sans" font-size="16" fill="#222" text-anchor="start" >(b)</text>
<line x1="578.3" y1="33.5" x2="604.5" y2="33.5" stroke="#009000" stroke-width="2.6"/>
<text x="606.4" y="37.0" font-family="Liberation Serif" font-size="11.3" fill="#009000">CuMn<tspan font-size="7.5" dy="2.9">2</tspan><tspan dy="-2.9">O</tspan><tspan font-size="7.5" dy="2.9">4</tspan><tspan dy="-2.9">GO</tspan></text>
<rect x="521.2" y="66.0" width="129.5" height="53.2" fill="#fff" stroke="#444" stroke-width="1"/>
<line x1="521.2" y1="76.7" x2="650.7" y2="76.7" stroke="#555" stroke-width="0.8"/>
<line x1="521.2" y1="87.3" x2="650.7" y2="87.3" stroke="#555" stroke-width="0.8"/>
<line x1="521.2" y1="98.0" x2="650.7" y2="98.0" stroke="#555" stroke-width="0.8"/>
<line x1="521.2" y1="108.6" x2="650.7" y2="108.6" stroke="#555" stroke-width="0.8"/>
<line x1="562.6" y1="66.0" x2="562.6" y2="119.2" stroke="#555" stroke-width="0.8"/>
<line x1="606.3" y1="66.0" x2="606.3" y2="119.2" stroke="#555" stroke-width="0.8"/>
<text x="0" y="0" transform="translate(541.90 74.76) scale(0.9300 1.0000)" font-family="Liberation Serif" font-weight="bold" font-size="8.60" fill="#111" stroke="none" stroke-width="0.00" text-anchor="middle">Element</text>
<text x="0" y="0" transform="translate(584.45 74.76) scale(0.9300 1.0000)" font-family="Liberation Serif" font-weight="bold" font-size="8.60" fill="#111" stroke="none" stroke-width="0.00" text-anchor="middle">W%</text>
<text x="0" y="0" transform="translate(628.50 74.76) scale(0.9300 1.0000)" font-family="Liberation Serif" font-weight="bold" font-size="8.60" fill="#111" stroke="none" stroke-width="0.00" text-anchor="middle">A%</text>
<text x="0" y="0" transform="translate(541.90 85.41) scale(0.9300 1.0000)" font-family="Liberation Serif" font-weight="bold" font-size="8.60" fill="#111" stroke="none" stroke-width="0.00" text-anchor="middle">C</text>
<text x="0" y="0" transform="translate(584.45 85.41) scale(0.9300 1.0000)" font-family="Liberation Serif" font-weight="bold" font-size="8.60" fill="#111" stroke="none" stroke-width="0.00" text-anchor="middle">11.24</text>
<text x="0" y="0" transform="translate(628.50 85.41) scale(0.9300 1.0000)" font-family="Liberation Serif" font-weight="bold" font-size="8.60" fill="#111" stroke="none" stroke-width="0.00" text-anchor="middle">16.17</text>
<text x="0" y="0" transform="translate(541.90 96.06) scale(0.9300 1.0000)" font-family="Liberation Serif" font-weight="bold" font-size="8.60" fill="#111" stroke="none" stroke-width="0.00" text-anchor="middle">O</text>
<text x="0" y="0" transform="translate(584.45 96.06) scale(0.9300 1.0000)" font-family="Liberation Serif" font-weight="bold" font-size="8.60" fill="#111" stroke="none" stroke-width="0.00" text-anchor="middle">73.77</text>
<text x="0" y="0" transform="translate(628.50 96.06) scale(0.9300 1.0000)" font-family="Liberation Serif" font-weight="bold" font-size="8.60" fill="#111" stroke="none" stroke-width="0.00" text-anchor="middle">79.70</text>
<text x="0" y="0" transform="translate(541.90 106.71) scale(0.9300 1.0000)" font-family="Liberation Serif" font-weight="bold" font-size="8.60" fill="#111" stroke="none" stroke-width="0.00" text-anchor="middle">Mn</text>
<text x="0" y="0" transform="translate(584.45 106.71) scale(0.9300 1.0000)" font-family="Liberation Serif" font-weight="bold" font-size="8.60" fill="#111" stroke="none" stroke-width="0.00" text-anchor="middle">1.06</text>
<text x="0" y="0" transform="translate(628.50 106.71) scale(0.9300 1.0000)" font-family="Liberation Serif" font-weight="bold" font-size="8.60" fill="#111" stroke="none" stroke-width="0.00" text-anchor="middle">0.33</text>
<text x="0" y="0" transform="translate(541.90 117.36) scale(0.9300 1.0000)" font-family="Liberation Serif" font-weight="bold" font-size="8.60" fill="#111" stroke="none" stroke-width="0.00" text-anchor="middle">Cu</text>
<text x="0" y="0" transform="translate(584.45 117.36) scale(0.9300 1.0000)" font-family="Liberation Serif" font-weight="bold" font-size="8.60" fill="#111" stroke="none" stroke-width="0.00" text-anchor="middle">13.94</text>
<text x="0" y="0" transform="translate(628.50 117.36) scale(0.9300 1.0000)" font-family="Liberation Serif" font-weight="bold" font-size="8.60" fill="#111" stroke="none" stroke-width="0.00" text-anchor="middle">3.79</text>
<rect x="208.5" y="347.5" width="284.5" height="228.5" fill="none" stroke="#444" stroke-width="1"/>
<line x1="208.5" y1="576.0" x2="208.5" y2="580.5" stroke="#444" stroke-width="1"/>
<text x="208.5" y="591.6" font-family="Liberation Sans" font-size="10" text-anchor="middle" fill="#111">0</text>
<line x1="236.9" y1="576.0" x2="236.9" y2="578.5" stroke="#444" stroke-width="1"/>
<line x1="265.4" y1="576.0" x2="265.4" y2="580.5" stroke="#444" stroke-width="1"/>
<text x="265.4" y="591.6" font-family="Liberation Sans" font-size="10" text-anchor="middle" fill="#111">2</text>
<line x1="293.9" y1="576.0" x2="293.9" y2="578.5" stroke="#444" stroke-width="1"/>
<line x1="322.3" y1="576.0" x2="322.3" y2="580.5" stroke="#444" stroke-width="1"/>
<text x="322.3" y="591.6" font-family="Liberation Sans" font-size="10" text-anchor="middle" fill="#111">4</text>
<line x1="350.8" y1="576.0" x2="350.8" y2="578.5" stroke="#444" stroke-width="1"/>
<line x1="379.2" y1="576.0" x2="379.2" y2="580.5" stroke="#444" stroke-width="1"/>
<text x="379.2" y="591.6" font-family="Liberation Sans" font-size="10" text-anchor="middle" fill="#111">6</text>
<line x1="407.6" y1="576.0" x2="407.6" y2="578.5" stroke="#444" stroke-width="1"/>
<line x1="436.1" y1="576.0" x2="436.1" y2="580.5" stroke="#444" stroke-width="1"/>
<text x="436.1" y="591.6" font-family="Liberation Sans" font-size="10" text-anchor="middle" fill="#111">8</text>
<line x1="464.6" y1="576.0" x2="464.6" y2="578.5" stroke="#444" stroke-width="1"/>
<line x1="493.0" y1="576.0" x2="493.0" y2="580.5" stroke="#444" stroke-width="1"/>
<path d="M490.72 591.60 L490.72 584.44 M490.92 584.54 L488.22 586.84" stroke="#111" stroke-width="0.95" fill="none" stroke-linecap="butt"/>
<text x="493.00" y="591.6" font-family="Liberation Sans" font-size="10" fill="#111">0</text>
<polyline fill="none" stroke="#000000" stroke-width="2.05" stroke-linejoin="round" points="209.0,570.0 209.3,571.1 209.7,570.6 210.0,571.6 210.3,572.0 210.7,569.4 211.0,568.4 211.3,572.0 211.6,570.4 212.0,569.8 212.3,573.1 212.6,571.7 213.0,572.6 213.3,571.3 213.6,571.1 213.9,569.3 214.3,568.9 214.6,568.0 214.9,566.1 215.3,564.5 215.6,563.7 215.8,563.5 215.9,563.6 216.3,564.3 216.6,565.4 216.9,566.4 217.2,568.9 217.6,569.8 217.9,571.0 218.2,572.3 218.6,572.4 218.9,573.5 219.2,571.5 219.6,572.8 219.9,571.5 220.2,573.2 220.6,572.7 220.9,570.2 221.2,566.7 221.5,557.0 221.9,534.6 222.2,494.3 222.5,440.2 222.9,390.5 223.2,369.2 223.2,369.2 223.5,388.2 223.8,436.8 224.2,491.3 224.5,532.7 224.8,556.2 225.2,566.7 225.5,570.4 225.8,571.8 226.2,569.5 226.5,564.9 226.8,557.4 227.2,546.0 227.5,533.3 227.8,524.5 228.0,523.0 228.1,523.8 228.5,531.6 228.8,544.0 229.1,555.7 229.5,563.8 229.8,568.7 230.1,571.3 230.4,570.1 230.8,572.2 231.1,571.1 231.4,569.7 231.8,569.9 232.1,570.6 232.4,569.4 232.8,565.6 233.1,559.5 233.4,548.7 233.8,532.9 234.1,512.7 234.4,491.0 234.7,472.5 235.1,462.4 235.2,461.5 235.4,462.3 235.7,467.3 236.1,476.0 236.4,487.3 236.7,500.2 237.1,513.1 237.4,524.8 237.7,534.5 238.0,541.9 238.4,547.8 238.7,551.4 239.0,554.1 239.3,556.0 239.4,556.4 239.7,558.6 240.0,560.8 240.3,563.2 240.7,565.4 241.0,567.2 241.3,568.8 241.7,570.6 242.0,570.4 242.3,569.8 242.7,569.3 243.0,567.1 243.3,565.3 243.7,563.5 244.0,562.7 244.0,562.7 244.3,563.3 244.6,565.1 245.0,567.2 245.3,568.3 245.6,570.2 246.0,571.3 246.3,569.6 246.6,571.4 246.9,571.2 247.3,572.1 247.6,570.8 247.9,572.2 248.3,572.7 248.6,569.4 248.9,568.6 249.3,571.3 249.6,573.6 249.9,570.8 250.2,570.9 250.6,571.6 250.9,570.5 251.2,570.4 251.6,570.1 251.9,570.3 252.2,571.5 252.6,570.4 252.9,570.4 253.2,572.4 253.6,569.3 253.9,571.0 254.2,572.4 254.5,570.7 254.9,569.9 255.2,571.5 255.5,569.9 255.9,568.0 256.2,563.8 256.5,555.2 256.9,539.9 257.2,517.4 257.5,489.1 257.8,460.1 258.2,438.1 258.5,429.8 258.8,434.0 259.2,445.7 259.5,463.2 259.8,483.6 260.1,504.3 260.5,523.0 260.8,538.5 261.1,550.4 261.5,558.6 261.8,564.3 262.1,567.9 262.5,569.0 262.8,569.8 263.1,571.7 263.4,571.9 263.8,572.8 264.1,571.0 264.4,569.4 264.8,569.7 265.1,572.3 265.4,570.5 265.8,570.3 266.1,570.6 266.4,570.7 266.8,570.7 267.1,573.2 267.4,570.2 267.7,568.5 268.1,572.7 268.4,573.6 268.7,574.4 269.1,571.9 269.4,573.7 269.7,574.1 270.1,570.8 270.4,572.4 270.7,573.3 271.0,572.7 271.4,571.8 271.7,570.4 272.0,570.2 272.4,569.6 272.7,568.7 273.0,570.9 273.4,570.2 273.7,571.3 274.0,569.3 274.3,568.3 274.7,565.6 275.0,562.6 275.3,561.1 275.4,561.0 275.7,561.7 276.0,564.1 276.3,567.1 276.6,568.8 277.0,570.0 277.3,571.4 277.6,571.5 278.0,570.9 278.3,573.4 278.6,572.5 279.0,570.9 279.3,569.9 279.6,572.6 279.9,571.6 280.3,572.5 280.6,570.9 280.9,569.8 281.3,569.9 281.6,569.5 281.9,567.1 282.3,565.2 282.6,562.6 282.9,559.5 283.2,556.5 283.6,554.8 283.8,554.5 283.9,554.6 284.2,555.8 284.6,557.9 284.9,560.8 285.2,564.0 285.6,566.5 285.9,568.5 286.2,570.3 286.6,569.4 286.9,569.1 287.2,569.0 287.5,568.9 287.9,568.5 288.2,572.8 288.5,573.5 288.9,569.9 289.2,570.9 289.5,570.3 289.9,570.1 290.2,570.2 290.5,571.7 290.8,571.9 291.2,570.8 291.5,569.6 291.8,569.9 292.2,569.0 292.5,570.9 292.8,572.3 293.1,571.0 293.5,569.1 293.8,569.0 294.1,570.0 294.5,571.4 294.8,572.8 295.1,571.1 295.5,572.8 295.8,572.3 296.1,571.3 296.4,570.6 296.8,571.1 297.1,572.1 297.4,571.1 297.8,571.8 298.1,570.9 298.4,569.7 298.8,570.1 299.1,570.2 299.4,568.2 299.8,567.9 300.1,567.3 300.4,567.7 300.7,567.6 301.1,565.7 301.4,565.5 301.5,565.5 301.7,565.6 302.1,565.9 302.4,565.4 302.7,567.6 303.1,568.4 303.4,569.8 303.7,570.4 304.0,570.7 304.4,571.3 304.7,570.9 305.0,568.8 305.4,569.7 305.7,568.0 306.0,567.4 306.4,568.1 306.7,566.1 307.0,565.0 307.3,565.6 307.7,565.1 308.0,565.0 308.3,565.2 308.7,565.6 309.0,565.5 309.3,567.7 309.6,568.5 310.0,569.8 310.3,571.0 310.6,570.6 311.0,570.9 311.3,568.5 311.6,567.9 312.0,565.6 312.3,562.6 312.6,558.3 312.9,554.5 313.3,550.9 313.6,547.7 313.9,546.4 314.0,546.4 314.3,547.0 314.6,549.4 314.9,552.8 315.3,556.9 315.6,561.3 315.9,565.0 316.2,567.4 316.6,569.1 316.9,570.2 317.2,570.7 317.6,571.1 317.9,569.9 318.2,571.3 318.6,574.0 318.9,572.1 319.2,573.2 319.6,570.6 319.9,572.5 320.2,573.4 320.5,573.3 320.9,572.5 321.2,572.1 321.5,572.7 321.9,574.2 322.2,570.9 322.5,569.7 322.9,572.6 323.2,574.3 323.5,572.8 323.8,572.0 324.2,573.2 324.5,570.9 324.8,570.6 325.2,570.2 325.5,572.0 325.8,571.2 326.1,570.5 326.5,572.6 326.8,574.6 327.1,571.9 327.5,573.1 327.8,572.1 328.1,573.9 328.5,573.2 328.8,571.4 329.1,570.6 329.4,569.4 329.8,571.3 330.1,571.4 330.4,570.4 330.8,571.0 331.1,571.1 331.4,573.3 331.8,570.9 332.1,574.4 332.4,572.9 332.8,573.0 333.1,572.4 333.4,574.1 333.7,574.5 334.1,573.3 334.4,572.6 334.7,573.6 335.1,574.6 335.4,572.6 335.7,573.7 336.1,575.2 336.4,573.1 336.7,571.3 337.0,570.8 337.4,573.1 337.7,573.6 338.0,575.2 338.4,575.1 338.7,572.1 339.0,570.9 339.4,570.9 339.7,570.5 340.0,573.0 340.3,574.6 340.7,575.2 341.0,572.2 341.3,574.4 341.7,572.2 342.0,572.2 342.3,573.7 342.6,570.9 343.0,570.1 343.3,573.6 343.6,572.0 344.0,571.8 344.3,572.9 344.6,573.7 345.0,570.6 345.3,571.3 345.6,572.0 345.9,572.5 346.3,571.3 346.6,572.8 346.9,575.1 347.3,573.0 347.6,573.1 347.9,571.0 348.3,571.2 348.6,573.2 348.9,571.1 349.2,574.3 349.6,575.4 349.9,571.7 350.2,574.8 350.6,572.9 350.9,574.3 351.2,574.7 351.6,572.5 351.9,573.7 352.2,574.0 352.6,574.9 352.9,572.4 353.2,574.2 353.5,575.7 353.9,574.7 354.2,573.8 354.5,571.3 354.9,572.6 355.2,572.2 355.5,574.0 355.9,574.3 356.2,573.8 356.5,571.8 356.8,573.5 357.2,573.9 357.5,571.8 357.8,574.8 358.2,574.5 358.5,571.7 358.8,575.0 359.1,572.0 359.5,572.0 359.8,574.0 360.1,574.0 360.5,573.8 360.8,574.2 361.1,573.4 361.5,572.4 361.8,571.4 362.1,570.6 362.4,573.6 362.8,574.7 363.1,574.0 363.4,574.8 363.8,573.1 364.1,572.1 364.4,572.5 364.8,575.0 365.1,571.6 365.4,572.9 365.8,572.0 366.1,574.4 366.4,573.0 366.7,572.5 367.1,572.7 367.4,573.5 367.7,574.9 368.1,573.2 368.4,575.2 368.7,572.1 369.1,572.0 369.4,571.1 369.7,570.9 370.0,574.2 370.4,575.0 370.7,572.4 371.0,571.7 371.4,572.6 371.7,574.6 372.0,575.6 372.4,575.5 372.7,574.7 373.0,572.2 373.3,572.8 373.7,571.9 374.0,573.3 374.3,574.0 374.7,572.3 375.0,572.1 375.3,574.7 375.6,571.7 376.0,574.7 376.3,576.1 376.6,576.8 377.0,574.1 377.3,574.2 377.6,574.4 378.0,574.7 378.3,576.6 378.6,575.7 378.9,573.4 379.3,575.6 379.6,574.4 379.9,574.6 380.3,575.3 380.6,571.8 380.9,574.7 381.3,575.0 381.6,574.3 381.9,574.2 382.2,573.9 382.6,572.4 382.9,573.7 383.2,571.6 383.6,573.3 383.9,574.6 384.2,574.0 384.6,574.4 384.9,576.4 385.2,576.7 385.6,573.1 385.9,575.2 386.2,575.0 386.5,572.3 386.9,572.9 387.2,572.5 387.5,571.8 387.9,572.6 388.2,572.9 388.5,571.0 388.9,569.6 389.2,566.9 389.5,563.0 389.8,559.1 390.2,554.1 390.5,548.7 390.8,543.1 391.2,537.8 391.5,533.2 391.8,530.2 392.1,529.0 392.2,529.0 392.5,529.7 392.8,532.2 393.1,536.3 393.5,541.1 393.8,546.6 394.1,552.2 394.5,557.4 394.8,561.9 395.1,565.8 395.4,568.9 395.8,570.8 396.1,572.1 396.4,573.4 396.8,573.3 397.1,573.8 397.4,575.1 397.8,574.3 398.1,573.1 398.4,575.8 398.8,575.9 399.1,574.4 399.4,574.0 399.7,574.5 400.1,575.0 400.4,573.5 400.7,572.1 401.1,572.6 401.4,575.2 401.7,573.3 402.1,574.0 402.4,573.1 402.7,572.9 403.0,572.7 403.4,573.6 403.7,572.9 404.0,572.1 404.4,572.2 404.7,572.5 405.0,573.9 405.4,572.6 405.7,572.0 406.0,573.6 406.3,573.9 406.7,575.1 407.0,573.1 407.3,573.6 407.7,573.5 408.0,572.3 408.3,572.9 408.6,571.0 409.0,569.1 409.3,567.8 409.6,566.5 410.0,565.6 410.2,565.4 410.3,565.4 410.6,566.1 411.0,567.3 411.3,568.7 411.6,570.9 411.9,572.0 412.3,573.8 412.6,573.6 412.9,573.5 413.3,573.5 413.6,575.3 413.9,575.3 414.3,574.2 414.6,573.0 414.9,574.8 415.2,576.4 415.6,575.5 415.9,573.0 416.2,572.4 416.6,572.5 416.9,572.8 417.2,572.4 417.6,572.3 417.9,574.5 418.2,576.0 418.6,574.0 418.9,576.1 419.2,575.0 419.5,575.8 419.9,576.4 420.2,576.7 420.5,573.6 420.9,573.6 421.2,574.7 421.5,576.2 421.9,573.7 422.2,573.6 422.5,575.5 422.8,573.6 423.2,573.9 423.5,573.8 423.8,575.0 424.2,576.1 424.5,574.0 424.8,575.2 425.1,575.5 425.5,576.0 425.8,575.2 426.1,576.1 426.5,574.6 426.8,574.3 427.1,573.7 427.5,575.2 427.8,574.7 428.1,573.9 428.4,573.4 428.8,574.9 429.1,575.0 429.4,575.4 429.8,574.5 430.1,574.5 430.4,573.5 430.8,574.9 431.1,573.3 431.4,574.1 431.8,575.2 432.1,575.3 432.4,573.6 432.7,573.5 433.1,575.2 433.4,575.1 433.7,575.6 434.1,575.5 434.4,574.3 434.7,574.3 435.1,573.4 435.4,571.8 435.7,570.1 436.0,567.7 436.4,564.9 436.7,561.6 437.0,557.3 437.4,553.1 437.7,548.9 438.0,545.7 438.4,543.5 438.7,542.6 438.7,542.6 439.0,543.3 439.3,545.4 439.7,548.6 440.0,552.4 440.3,556.7 440.7,561.1 441.0,564.5 441.3,567.6 441.6,569.9 442.0,571.9 442.3,573.0 442.6,574.0 443.0,574.2 443.3,573.8 443.6,573.6 444.0,573.3 444.3,575.0 444.6,573.8 444.9,573.2 445.3,575.3 445.6,574.1 445.9,575.4 446.3,573.9 446.6,574.3 446.9,573.9 447.3,575.1 447.6,575.0 447.9,575.1 448.2,575.3 448.6,575.7 448.9,574.6 449.2,574.8 449.6,574.5 449.9,573.7 450.2,575.1 450.6,575.0 450.9,575.4 451.2,574.2 451.6,574.6 451.9,574.5 452.2,575.1 452.5,573.8 452.9,574.0 453.2,574.4 453.5,573.6 453.9,574.4 454.2,575.0 454.5,574.6 454.9,574.9 455.2,574.8 455.5,574.0 455.8,573.9 456.2,574.7 456.5,573.8 456.8,573.6 457.2,573.4 457.5,573.3 457.5,573.3 457.8,573.4 458.1,573.5 458.5,574.5 458.8,575.0 459.1,574.7 459.5,575.3 459.8,574.6 460.1,574.2 460.5,574.8 460.8,574.7 461.1,574.5 461.4,573.5 461.8,573.4 462.1,572.6 462.4,573.1 462.8,572.1 463.1,572.0 463.3,572.0 463.4,572.0 463.8,572.1 464.1,572.4 464.4,572.3 464.8,572.8 465.1,573.4 465.4,572.9 465.7,574.0 466.1,573.7 466.4,574.0 466.7,574.0 467.1,574.8 467.4,575.1 467.7,574.3 468.1,573.7 468.4,573.9 468.7,574.2 469.0,573.6 469.4,573.6 469.7,574.8 470.0,575.1 470.4,575.8 470.7,576.0 471.0,575.8 471.4,574.7 471.7,573.9 472.0,574.0 472.3,574.3 472.7,574.6 473.0,574.7 473.3,574.3 473.7,575.3 474.0,574.3 474.3,574.4 474.6,575.4 475.0,575.5 475.3,574.4 475.6,574.0 476.0,575.1 476.3,573.7 476.6,573.6 477.0,574.4 477.3,574.6 477.6,573.9 477.9,573.5 478.3,573.6 478.6,574.9 478.9,574.6 479.3,575.6 479.6,575.5 479.9,575.9 480.3,574.0 480.6,573.8 480.9,573.4 481.2,574.1 481.6,574.1 481.9,573.5 482.2,574.4 482.6,573.7 482.9,573.9 483.2,573.9 483.6,575.0 483.9,574.6 484.2,574.1 484.6,573.5 484.9,574.1 485.2,574.7 485.5,575.0 485.9,575.6 486.2,575.5 486.5,574.4 486.9,573.8 487.2,574.9 487.5,575.3 487.9,574.8 488.2,575.3 488.5,574.9 488.8,574.3 489.2,573.8 489.5,573.4 489.8,574.5 490.2,575.4 490.5,575.7 490.8,574.8 491.1,575.0 491.5,575.6 491.8,575.5 492.1,575.1 492.5,574.6 492.8,574.6"/>
<text x="0" y="0" transform="translate(213.60 366.30) scale(1 1.070)" font-family="Liberation Serif" font-size="10.5" fill="#ff0000" text-anchor="start" >O Ka</text>
<text x="0" y="0" transform="translate(250.90 424.60) scale(1 1.070)" font-family="Liberation Serif" font-size="10.5" fill="#ff0000" text-anchor="start" >Cu Ka</text>
<text x="0" y="0" transform="translate(222.60 458.60) scale(1 1.070)" font-family="Liberation Serif" font-size="10.5" fill="#ff0000" text-anchor="start" >Mn Ka</text>
<text x="0" y="0" transform="translate(224.60 521.70) scale(1 1.070)" font-family="Liberation Serif" font-size="10.5" fill="#ff0000" text-anchor="start" >Fe Ka</text>
<text x="0" y="0" transform="translate(209.60 558.60) scale(1 1.070)" font-family="Liberation Serif" font-size="10.5" fill="#ff0000" text-anchor="start" >C Ka</text>
<text x="0" y="0" transform="translate(269.70 550.80) scale(1 1.070)" font-family="Liberation Serif" font-size="10.5" fill="#ff0000" text-anchor="start" >Mn Ka</text>
<text x="0" y="0" transform="translate(303.30 543.40) scale(1 1.070)" font-family="Liberation Serif" font-size="10.5" fill="#ff0000" text-anchor="start" >Fe Ka</text>
<text x="0" y="0" transform="translate(377.20 524.20) scale(1 1.070)" font-family="Liberation Serif" font-size="10.5" fill="#ff0000" text-anchor="start" >Mn Ka</text>
<text x="0" y="0" transform="translate(399.40 561.20) scale(1 1.070)" font-family="Liberation Serif" font-size="10.5" fill="#ff0000" text-anchor="start" >Fe Ka</text>
<text x="0" y="0" transform="translate(423.10 537.40) scale(1 1.070)" font-family="Liberation Serif" font-size="10.5" fill="#ff0000" text-anchor="start" >Cu Ka</text>
<text x="0" y="0" transform="translate(452.00 565.90) scale(1 1.070)" font-family="Liberation Serif" font-size="10.5" fill="#ff0000" text-anchor="start" >Cu Ka</text>
<text x="321.6" y="608.5" font-family="Liberation Serif" font-size="11.2" fill="#000" text-anchor="start" textLength="59.0" lengthAdjust="spacingAndGlyphs">Energy (keV)</text>
<text x="0.0" y="0.0" font-family="Liberation Serif" font-size="10.7" fill="#000" text-anchor="middle" transform="translate(199.3 461.5) rotate(-90)">Counts (a.u.)</text>
<text x="354.6" y="370.5" font-family="Liberation Sans" font-size="22" fill="#111" text-anchor="start" >(</text>
<text x="0" y="0" transform="translate(361.9 370.7) scale(1.19 0.98)" font-family="Liberation Sans" font-size="20" fill="#111">c</text>
<text x="373.8" y="370.5" font-family="Liberation Sans" font-size="22" fill="#111" text-anchor="start" >)</text>
<line x1="384" y1="364.2" x2="406.3" y2="364.2" stroke="#000" stroke-width="1.8"/>
<text x="408.7" y="367.4" font-family="Liberation Serif" font-size="9.6" fill="#1a1a2a">CuMn<tspan font-size="6.9" dy="2.2">2</tspan><tspan dy="-2.2">O</tspan><tspan font-size="6.9" dy="2.2">4</tspan><tspan dy="-2.2">GOFe</tspan><tspan font-size="6.9" dy="2.2">3</tspan><tspan dy="-2.2">O</tspan><tspan font-size="6.9" dy="2.2">4</tspan></text>
<rect x="359.4" y="387.0" width="115.4" height="49.6" fill="#fff" stroke="#444" stroke-width="1"/>
<line x1="359.4" y1="395.3" x2="474.8" y2="395.3" stroke="#555" stroke-width="0.8"/>
<line x1="359.4" y1="403.5" x2="474.8" y2="403.5" stroke="#555" stroke-width="0.8"/>
<line x1="359.4" y1="411.8" x2="474.8" y2="411.8" stroke="#555" stroke-width="0.8"/>
<line x1="359.4" y1="420.1" x2="474.8" y2="420.1" stroke="#555" stroke-width="0.8"/>
<line x1="359.4" y1="428.4" x2="474.8" y2="428.4" stroke="#555" stroke-width="0.8"/>
<line x1="396.5" y1="387.0" x2="396.5" y2="436.6" stroke="#555" stroke-width="0.8"/>
<line x1="435.4" y1="387.0" x2="435.4" y2="436.6" stroke="#555" stroke-width="0.8"/>
<text x="0" y="0" transform="translate(377.95 393.85) scale(0.5350 0.5000)" font-family="Liberation Serif" font-weight="bold" font-size="13.40" fill="#111" stroke="#111" stroke-width="0.50" text-anchor="middle">Element</text>
<text x="0" y="0" transform="translate(415.95 393.85) scale(0.5350 0.5000)" font-family="Liberation Serif" font-weight="bold" font-size="13.40" fill="#111" stroke="#111" stroke-width="0.50" text-anchor="middle">W%</text>
<text x="0" y="0" transform="translate(455.10 393.85) scale(0.5350 0.5000)" font-family="Liberation Serif" font-weight="bold" font-size="13.40" fill="#111" stroke="#111" stroke-width="0.50" text-anchor="middle">A%</text>
<text x="0" y="0" transform="translate(377.95 402.12) scale(0.5350 0.5000)" font-family="Liberation Serif" font-weight="bold" font-size="13.40" fill="#111" stroke="#111" stroke-width="0.50" text-anchor="middle">C</text>
<text x="0" y="0" transform="translate(415.95 402.12) scale(0.5350 0.5000)" font-family="Liberation Serif" font-weight="bold" font-size="13.40" fill="#111" stroke="#111" stroke-width="0.50" text-anchor="middle">1.98</text>
<text x="0" y="0" transform="translate(455.10 402.12) scale(0.5350 0.5000)" font-family="Liberation Serif" font-weight="bold" font-size="13.40" fill="#111" stroke="#111" stroke-width="0.50" text-anchor="middle">4.61</text>
<text x="0" y="0" transform="translate(377.95 410.39) scale(0.5350 0.5000)" font-family="Liberation Serif" font-weight="bold" font-size="13.40" fill="#111" stroke="#111" stroke-width="0.50" text-anchor="middle">O</text>
<text x="0" y="0" transform="translate(415.95 410.39) scale(0.5350 0.5000)" font-family="Liberation Serif" font-weight="bold" font-size="13.40" fill="#111" stroke="#111" stroke-width="0.50" text-anchor="middle">38.85</text>
<text x="0" y="0" transform="translate(455.10 410.39) scale(0.5350 0.5000)" font-family="Liberation Serif" font-weight="bold" font-size="13.40" fill="#111" stroke="#111" stroke-width="0.50" text-anchor="middle">67.94</text>
<text x="0" y="0" transform="translate(377.95 418.66) scale(0.5350 0.5000)" font-family="Liberation Serif" font-weight="bold" font-size="13.40" fill="#111" stroke="#111" stroke-width="0.50" text-anchor="middle">Mn</text>
<text x="0" y="0" transform="translate(415.95 418.66) scale(0.5350 0.5000)" font-family="Liberation Serif" font-weight="bold" font-size="13.40" fill="#111" stroke="#111" stroke-width="0.50" text-anchor="middle">0.62</text>
<text x="0" y="0" transform="translate(455.10 418.66) scale(0.5350 0.5000)" font-family="Liberation Serif" font-weight="bold" font-size="13.40" fill="#111" stroke="#111" stroke-width="0.50" text-anchor="middle">0.32</text>
<text x="0" y="0" transform="translate(377.95 426.93) scale(0.5350 0.5000)" font-family="Liberation Serif" font-weight="bold" font-size="13.40" fill="#111" stroke="#111" stroke-width="0.50" text-anchor="middle">Fe</text>
<text x="0" y="0" transform="translate(415.95 426.93) scale(0.5350 0.5000)" font-family="Liberation Serif" font-weight="bold" font-size="13.40" fill="#111" stroke="#111" stroke-width="0.50" text-anchor="middle">22.31</text>
<text x="0" y="0" transform="translate(455.10 426.93) scale(0.5350 0.5000)" font-family="Liberation Serif" font-weight="bold" font-size="13.40" fill="#111" stroke="#111" stroke-width="0.50" text-anchor="middle">11.18</text>
<text x="0" y="0" transform="translate(377.95 435.20) scale(0.5350 0.5000)" font-family="Liberation Serif" font-weight="bold" font-size="13.40" fill="#111" stroke="#111" stroke-width="0.50" text-anchor="middle">Cu</text>
<text x="0" y="0" transform="translate(415.95 435.20) scale(0.5350 0.5000)" font-family="Liberation Serif" font-weight="bold" font-size="13.40" fill="#111" stroke="#111" stroke-width="0.50" text-anchor="middle">36.24</text>
<text x="0" y="0" transform="translate(455.10 435.20) scale(0.5350 0.5000)" font-family="Liberation Serif" font-weight="bold" font-size="13.40" fill="#111" stroke="#111" stroke-width="0.50" text-anchor="middle">15.95</text>
</svg>
</body></html>
